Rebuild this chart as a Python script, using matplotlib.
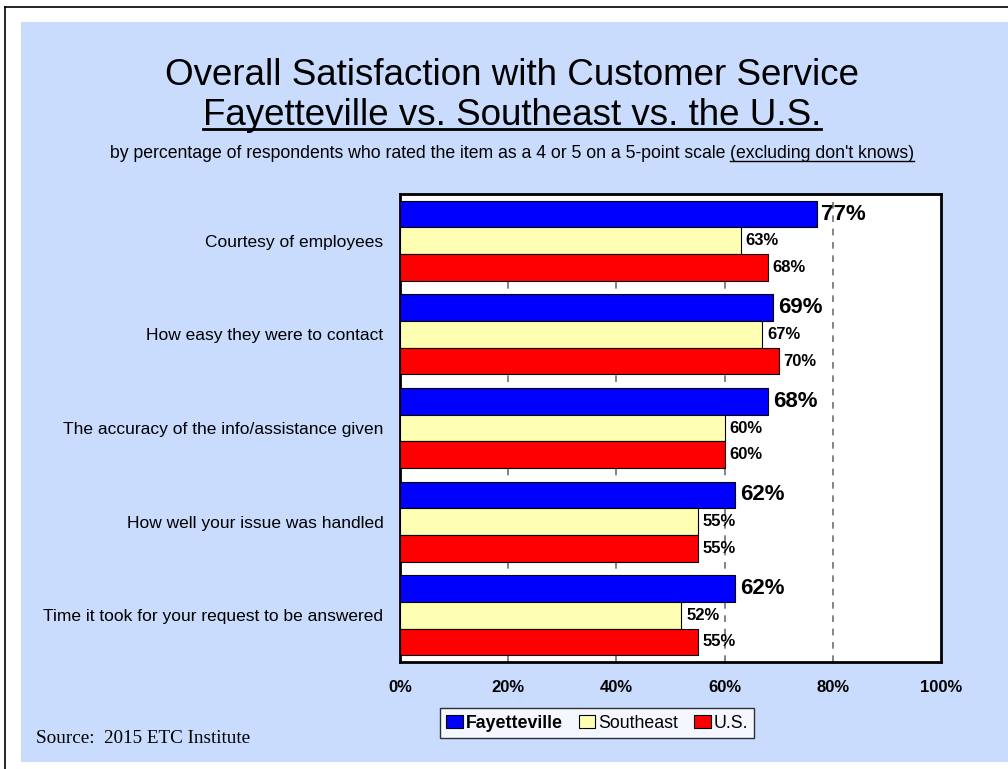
import numpy as np
import matplotlib.pyplot as plt
from matplotlib.patches import Rectangle
from matplotlib.lines import Line2D

plt.rcParams['font.family'] = ['Liberation Sans', 'DejaVu Sans']

categories = ['Courtesy of employees',
              'How easy they were to contact',
              'The accuracy of the info/assistance given',
              'How well your issue was handled',
              'Time it took for your request to be answered']
fayetteville = [77, 69, 68, 62, 62]
southeast = [63, 67, 60, 55, 52]
us = [68, 70, 60, 55, 55]
series_names = ['Fayetteville', 'Southeast', 'U.S.']
x_ticks = [0, 20, 40, 60, 80, 100]

colors = ['#0000FF', '#FFFFB3', '#FF0000']
bg = '#C9DCFE'

W, H = 1008, 769
fig = plt.figure(figsize=(W / 100, H / 100), dpi=100)
fig.patch.set_facecolor('white')

def fy(py):
    # pixel row from top -> figure fraction
    return 1 - py / H

# light blue slide background and the outer frame
fig.patches.append(Rectangle((21 / W, fy(762)), 1.0, fy(22) - fy(762), transform=fig.transFigure,
                             facecolor=bg, edgecolor='none', zorder=-10))
fig.lines.append(Line2D([5 / W, 5 / W], [0.0, fy(7)], transform=fig.transFigure, color='black', lw=1.2, zorder=-5))
fig.lines.append(Line2D([5 / W, 1.0], [fy(7), fy(7)], transform=fig.transFigure, color='black', lw=1.2, zorder=-5))

ax = fig.add_axes([400 / W, fy(662), 541 / W, (662 - 194) / H])
ax.set_facecolor('white')

y = np.arange(len(categories))
h = 0.285
data = [fayetteville, southeast, us]
for i, (vals, col) in enumerate(zip(data, colors)):
    pos = y + (i - 1) * h
    ax.barh(pos, vals, height=h, color=col, edgecolor='black', linewidth=0.8, zorder=3,
            label=series_names[i])
    for p, v in zip(pos, vals):
        if i == 0:
            ax.text(v + 0.9, p, f'{v}%', va='center', ha='left', fontsize=16, fontweight='bold', zorder=4)
        else:
            ax.text(v + 0.9, p, f'{v}%', va='center', ha='left', fontsize=12, fontweight='bold', zorder=4)

for g in [20, 40, 60, 80]:
    ax.axvline(g, color='#707070', lw=1.2, ls=(0, (4, 4)), zorder=1)

ax.set_xlim(0, 100)
ax.set_ylim(len(categories) - 0.5, -0.5)
ax.set_yticks(y)
ax.set_yticklabels(categories, fontsize=12.5)
ax.set_xticks(x_ticks)
ax.set_xticklabels([f'{t}%' for t in x_ticks], fontsize=12, fontweight='bold')
ax.tick_params(axis='both', length=0)
ax.tick_params(axis='y', pad=12)
ax.tick_params(axis='x', pad=13)
for s in ax.spines.values():
    s.set_linewidth(2)
    s.set_color('black')

# titles
fig.text(0.508, fy(85), 'Overall Satisfaction with Customer Service', ha='center', va='baseline', fontsize=26.5)
t2 = fig.text(0.508, fy(125), 'Fayetteville vs. Southeast vs. the U.S.', ha='center', va='baseline', fontsize=26.5)
sub_a = 'by percentage of respondents who rated the item as a 4 or 5 on a 5-point scale '
sub_b = "(excluding don't knows)"
s1 = fig.text(0.1, fy(158), sub_a, ha='left', va='baseline', fontsize=12.7)

renderer = fig.canvas.get_renderer()
bb1 = s1.get_window_extent(renderer).transformed(fig.transFigure.inverted())
s2 = fig.text(bb1.x1, fy(158), sub_b, ha='left', va='baseline', fontsize=12.7)
bb2 = s2.get_window_extent(renderer).transformed(fig.transFigure.inverted())
# center whole subtitle
total = bb2.x1 - bb1.x0
shift = 0.508 - (bb1.x0 + total / 2)
s1.set_x(bb1.x0 + shift)
s2.set_x(bb2.x0 + shift)
fig.lines.append(Line2D([bb2.x0 + shift, bb2.x1 + shift], [fy(161), fy(161)],
                        transform=fig.transFigure, color='black', lw=1.0))
bbt = t2.get_window_extent(renderer).transformed(fig.transFigure.inverted())
fig.lines.append(Line2D([bbt.x0, bbt.x1], [fy(129), fy(129)],
                        transform=fig.transFigure, color='black', lw=2.0))

leg = ax.legend(loc='center', bbox_to_anchor=(597 / W, fy(723)), bbox_transform=fig.transFigure,
                ncol=3, frameon=True, fancybox=False, fontsize=12.8, handlelength=0.95, handleheight=0.8,
                handletextpad=0.15, columnspacing=0.9, borderpad=0.35, borderaxespad=0)
leg.get_frame().set_edgecolor('black')
leg.get_frame().set_linewidth(1.0)
leg.get_texts()[0].set_fontweight('bold')

fig.text(36 / W, fy(743), 'Source:  2015 ETC Institute', ha='left', va='baseline', fontsize=13.8,
         family=['Liberation Serif', 'DejaVu Serif'])

fig.savefig('out.png', dpi=100)
